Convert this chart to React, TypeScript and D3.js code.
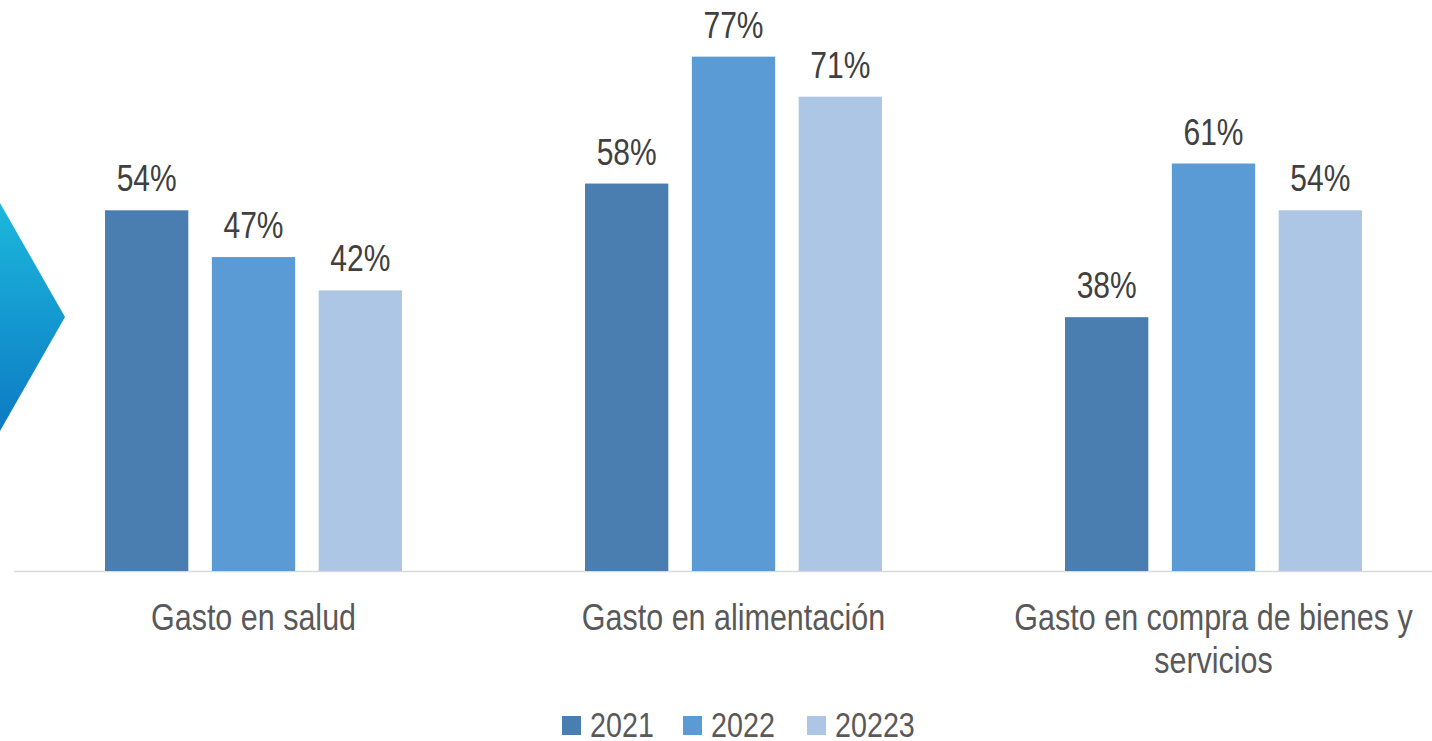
import React from "react";
import * as d3 from "d3";

const categories = ["Gasto en salud", "Gasto en alimentación", "Gasto en compra de bienes y servicios"];
const categoryLines = [["Gasto en salud"], ["Gasto en alimentación"], ["Gasto en compra de bienes y", "servicios"]];
const seriesNames = ["2021", "2022", "20223"];
const values2021 = [0.54, 0.58, 0.38];
const values2022 = [0.47, 0.77, 0.61];
const values2023 = [0.42, 0.71, 0.54];
const seriesColors = ["#4A7EB0", "#5B9BD5", "#ADC6E5"];

const W = 1432;
const H = 741;
const FONT = "'Liberation Sans', Arial, sans-serif";
const NARROW = 0.82;

function NText(props: { x: number; y: number; size: number; fill: string; anchor?: string; children: React.ReactNode }) {
  return (
    <text
      transform={`translate(${props.x},${props.y}) scale(${NARROW},1)`}
      textAnchor={props.anchor || "start"}
      fontSize={props.size}
      fill={props.fill}
    >
      {props.children}
    </text>
  );
}

export default function App() {
  const series = [values2021, values2022, values2023];
  const x0 = d3.scaleBand<string>().domain(categories).range([13.5, 1453.5]).paddingInner(0).paddingOuter(0);
  const x1 = d3.scaleBand<string>().domain(seriesNames).range([91.5, 388.5]).paddingInner(0.22).paddingOuter(0);
  const y = d3.scaleLinear().domain([0, 1]).range([571, -97]);
  const fmt = d3.format(".0%");

  const legendX = [562, 683, 807];

  return (
    <div style={{ position: "absolute", left: 0, top: 0 }}>
      <svg width={W} height={H} style={{ display: "block", fontFamily: FONT }}>
        <defs>
          <linearGradient id="arrowGrad" x1="0" y1="0" x2="0" y2="1">
            <stop offset="0" stopColor="#1CB8DD" />
            <stop offset="1" stopColor="#0D7AC3" />
          </linearGradient>
        </defs>
        <polygon points="0,203 65,317 0,431" fill="url(#arrowGrad)" />
        <line x1={14} x2={W} y1={571.5} y2={571.5} stroke="#D9D9D9" strokeWidth={1.5} />
        {categories.map((c, ci) => (
          <g key={c} transform={`translate(${x0(c)},0)`}>
            {series.map((vals, si) => {
              const bx = x1(seriesNames[si])!;
              const bw = x1.bandwidth();
              const top = y(vals[ci]);
              return (
                <g key={si}>
                  <rect x={bx} y={top} width={bw} height={y(0) - top} fill={seriesColors[si]} />
                  <NText x={bx + bw / 2} y={top - 19} anchor="middle" size={36.6} fill="#404040">
                    {fmt(vals[ci])}
                  </NText>
                </g>
              );
            })}
            {categoryLines[ci].map((line, li) => (
              <NText key={li} x={x0.bandwidth() / 2} y={630 + li * 43} anchor="middle" size={37.2} fill="#595959">
                {line}
              </NText>
            ))}
          </g>
        ))}
        {seriesNames.map((s, i) => (
          <g key={s} transform={`translate(${legendX[i]},0)`}>
            <rect x={0} y={716} width={19} height={19} fill={seriesColors[i]} />
            <NText x={28} y={737} size={35} fill="#595959">{s}</NText>
          </g>
        ))}
      </svg>
    </div>
  );
}
